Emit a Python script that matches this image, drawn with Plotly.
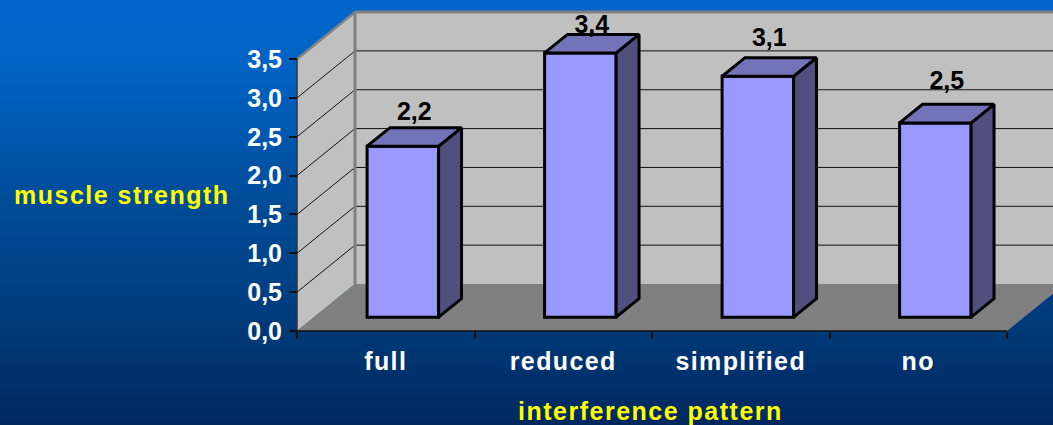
import numpy as np
import plotly.graph_objects as go

# Chart data
categories = ["full", "reduced", "simplified", "no"]
strength = [2.2, 3.4, 3.1, 2.5]
value_ticks = [0.0, 0.5, 1.0, 1.5, 2.0, 2.5, 3.0, 3.5]
label_lift = [32, 26, 37, 40]  # pixels between bar top and its value label

# Canvas and oblique-projection geometry
WIDTH, HEIGHT = 1053, 425
ORIGIN_X, ORIGIN_Y = 297, 331
PX_PER_CATEGORY, PX_PER_UNIT = 177.5, 77.7
WALL_DX, WALL_DY = 58, 47
BAR_WIDTH = 0.403
BAR_FRONT, BAR_BACK = 0.295, 0.69
VALUE_MAX = value_ticks[-1]
TEXT_SIZE = 25


def project(x, v, depth=0.0):
    """Map (category position, value, depth 0..1) onto the flat axes."""
    return x + depth * WALL_DX / PX_PER_CATEGORY, v + depth * WALL_DY / PX_PER_UNIT


def polygon_shape(points, fill):
    path = "M" + "L".join(f"{px},{py}" for px, py in points) + "Z"
    return dict(type="path", path=path, xref="x", yref="y", fillcolor=fill,
                line=dict(width=0), layer="below")


def line_shape(a, b, color, width):
    return dict(type="line", xref="x", yref="y", x0=a[0], y0=a[1], x1=b[0], y1=b[1],
                line=dict(color=color, width=width), layer="below")


# Slide background: vertical blue gradient made of thin bands
bg_pos = [0, 80, 200, 331, 425]
bg_green = [102, 97, 76, 57, 40]
bg_blue = [204, 194, 152, 120, 95]
shapes = []
for top in range(0, HEIGHT, 2):
    g = np.interp(top + 1, bg_pos, bg_green)
    b = np.interp(top + 1, bg_pos, bg_blue)
    shapes.append(dict(type="rect", xref="paper", yref="paper", x0=0, x1=1,
                       y0=1 - (top + 3) / HEIGHT, y1=1 - top / HEIGHT,
                       fillcolor=f"rgb(0,{g:.0f},{b:.0f})", line=dict(width=0), layer="below"))

n = len(categories)

# Walls and floor of the chart box
far_right = n + 1
shapes.append(polygon_shape([project(0, 0, 1), project(far_right, 0, 1),
                             project(far_right, VALUE_MAX, 1), project(0, VALUE_MAX, 1)], "#c0c0c0"))
shapes.append(polygon_shape([project(0, 0), project(0, 0, 1),
                             project(0, VALUE_MAX, 1), project(0, VALUE_MAX)], "#c0c0c0"))
shapes.append(polygon_shape([project(0, 0), project(n, 0), project(n, 0, 1), project(0, 0, 1)], "#808080"))

# Gridlines across both walls
for v in value_ticks[1:-1]:
    shapes.append(line_shape(project(0, v), project(0, v, 1), "#111111", 1))
    shapes.append(line_shape(project(0, v, 1), project(far_right, v, 1), "#111111", 1))

# Wall edges and the two axis lines
shapes.append(line_shape(project(0, 0, 1), project(0, VALUE_MAX, 1), "#808080", 3))
shapes.append(line_shape(project(0, VALUE_MAX, 1), project(far_right, VALUE_MAX, 1), "#808080", 3))
shapes.append(line_shape(project(0, VALUE_MAX), project(0, VALUE_MAX, 1), "#808080", 2.5))
shapes.append(line_shape(project(0, 0), project(0, VALUE_MAX), "#333333", 1.5))
shapes.append(line_shape(project(0, 0), project(n, 0), "#111111", 1.5))

fig = go.Figure()

# Front faces of the columns
centers = [i + 0.5 for i in range(n)]
front_x = [project(c, 0, BAR_FRONT)[0] for c in centers]
front_base = project(0, 0, BAR_FRONT)[1]
fig.add_bar(x=front_x, y=strength, base=front_base, width=BAR_WIDTH,
            marker=dict(color="#9999ff", line=dict(color="black", width=3)))

# Side and top faces follow the same values
side_x, side_y, top_x, top_y = [], [], [], []
for c, v in zip(centers, strength):
    r = c + BAR_WIDTH / 2
    l = c - BAR_WIDTH / 2
    pts = [project(r, 0, BAR_FRONT), project(r, 0, BAR_BACK), project(r, v, BAR_BACK),
           project(r, v, BAR_FRONT), project(r, 0, BAR_FRONT), (None, None)]
    side_x += [p[0] for p in pts]
    side_y += [p[1] for p in pts]
    pts = [project(l, v, BAR_FRONT), project(l, v, BAR_BACK), project(r, v, BAR_BACK),
           project(r, v, BAR_FRONT), project(l, v, BAR_FRONT), (None, None)]
    top_x += [p[0] for p in pts]
    top_y += [p[1] for p in pts]

fig.add_scatter(x=side_x, y=side_y, mode="lines", fill="toself", fillcolor="#50507f",
                line=dict(color="black", width=3))
fig.add_scatter(x=top_x, y=top_y, mode="lines", fill="toself", fillcolor="#7373ba",
                line=dict(color="black", width=3))

# Value labels above each column
label_x = [fx + 11.5 / PX_PER_CATEGORY for fx in front_x]
label_y = [front_base + v + lift / PX_PER_UNIT for v, lift in zip(strength, label_lift)]
fig.add_scatter(x=label_x, y=label_y, mode="text", textposition="middle center",
                text=[f"{v:.1f}".replace(".", ",") for v in strength],
                textfont=dict(family="Liberation Sans", size=TEXT_SIZE, color="black", weight="bold"))


def spaced(text, gap):
    return f'<span style="letter-spacing:{gap}px">{text}</span>'


fig.update_layout(
    width=WIDTH, height=HEIGHT, margin=dict(l=0, r=0, t=0, b=0, pad=0),
    showlegend=False, hovermode=False, separators=", ",
    paper_bgcolor="#00418f", plot_bgcolor="rgba(0,0,0,0)",
    font=dict(family="Liberation Sans", color="white"),
    shapes=shapes,
    xaxis=dict(
        range=[-ORIGIN_X / PX_PER_CATEGORY, (WIDTH - ORIGIN_X) / PX_PER_CATEGORY],
        anchor="free", position=(HEIGHT - ORIGIN_Y) / HEIGHT,
        showgrid=False, zeroline=False, showline=False,
        tickmode="array", tickvals=centers,
        ticktext=[spaced(c, 1.4) for c in categories],
        ticks="", ticklabelstandoff=13,
        tickfont=dict(family="Liberation Sans", size=TEXT_SIZE, color="white", weight="bold"),
        minor=dict(tickmode="array", tickvals=list(range(n + 1)), ticks="outside",
                   ticklen=7, tickwidth=1.5, tickcolor="#111111", showgrid=False),
    ),
    yaxis=dict(
        range=[(ORIGIN_Y - HEIGHT) / PX_PER_UNIT, ORIGIN_Y / PX_PER_UNIT],
        anchor="free", position=ORIGIN_X / WIDTH,
        showgrid=False, zeroline=False, showline=False,
        tickmode="array", tickvals=value_ticks, tickformat=".1f",
        ticks="outside", ticklen=8, tickwidth=1.5, tickcolor="#111111",
        ticklabelstandoff=2,
        tickfont=dict(family="Liberation Sans", size=TEXT_SIZE, color="white", weight="bold"),
    ),
    annotations=[
        dict(text=spaced("muscle strength", 1.5), xref="paper", yref="paper",
             x=122 / WIDTH, y=1 - 195 / HEIGHT, showarrow=False, xanchor="center", yanchor="middle",
             font=dict(family="Liberation Sans", size=TEXT_SIZE, color="#ffff00", weight="bold")),
        dict(text=spaced("interference pattern", 1.5), xref="paper", yref="paper",
             x=650 / WIDTH, y=1 - 411 / HEIGHT, showarrow=False, xanchor="center", yanchor="middle",
             font=dict(family="Liberation Sans", size=TEXT_SIZE, color="#ffff00", weight="bold")),
    ],
)

fig.write_html("out.html")
